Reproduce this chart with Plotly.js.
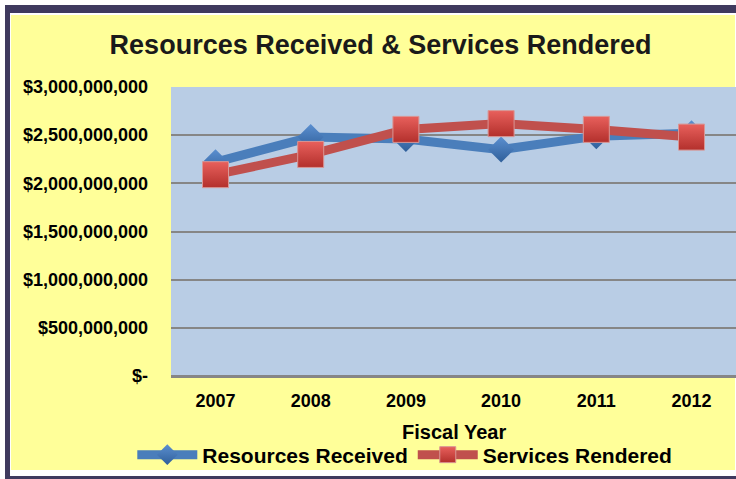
<!DOCTYPE html>
<html><head><meta charset="utf-8">
<script src="https://cdn.plot.ly/plotly-3.0.1.min.js"></script>
<style>
html,body{margin:0;padding:0;background:#fff;overflow:hidden;}
#frame{position:absolute;left:5px;top:5px;width:740px;height:480px;background:#3f3a5e;}
#inner{position:absolute;left:10px;top:13px;width:735px;height:463px;background:#fff;}
#yellow{position:absolute;left:11px;top:15px;width:724px;height:455px;background:#ffff99;}
#chart{position:absolute;left:0;top:0;width:736px;height:479px;}
</style></head>
<body>
<div id="frame"></div><div id="inner"></div><div id="yellow"></div>
<div id="chart"></div>
<script>
const years = ['2007','2008','2009','2010','2011','2012'];
const resourcesReceived = [2220000000, 2480000000, 2460000000, 2350000000, 2490000000, 2520000000];
const servicesRendered = [2090000000, 2300000000, 2560000000, 2620000000, 2560000000, 2480000000];
const yTickVals = [0, 500000000, 1000000000, 1500000000, 2000000000, 2500000000, 3000000000];
const yTickText = ['$-', '$500,000,000', '$1,000,000,000', '$1,500,000,000', '$2,000,000,000', '$2,500,000,000', '$3,000,000,000'];
const xAxisTitle = 'Fiscal Year';

const font = 'Liberation Sans, Arial, sans-serif';
const traces = [
  {x: years, y: resourcesReceived, name: 'Resources Received', type: 'scatter', mode: 'lines+markers',
   line: {color: '#4a7ebb', width: 9},
   marker: {symbol: 'diamond', size: 20, color: '#5b8fd0', gradient: {type: 'vertical', color: '#2f5f9a'}, line: {width: 0}}},
  {x: years, y: servicesRendered, name: 'Services Rendered', type: 'scatter', mode: 'lines+markers',
   line: {color: '#c0504d', width: 9},
   marker: {symbol: 'square', size: 26, color: '#e8605c', gradient: {type: 'vertical', color: '#b3302c'}, line: {width: 1, color: '#d99694'}}}
];
const layout = {
  width: 736, height: 479,
  paper_bgcolor: 'rgba(0,0,0,0)', plot_bgcolor: '#b9cde5',
  margin: {l: 171, r: 0, t: 87, b: 103},
  title: {text: '<b>Resources Received & Services Rendered</b>', font: {family: font, size: 27, color: '#1a1a1a'},
          x: 0.517, xanchor: 'center', y: 1 - 45/479, yanchor: 'middle'},
  xaxis: {type: 'category', showgrid: false, showline: false, zeroline: false,
          tickfont: {family: font, size: 18, color: '#000', weight: 'bold'}, ticklabelstandoff: 12},
  yaxis: {range: [0, 3000000000], tickvals: yTickVals, ticktext: yTickText,
          showgrid: true, gridcolor: '#868686', gridwidth: 2, zeroline: true, zerolinecolor: '#868686', zerolinewidth: 3,
          tickfont: {family: font, size: 18, color: '#000', weight: 'bold'}, ticklabelstandoff: 22, fixedrange: true},
  annotations: [{text: '<b>' + xAxisTitle + '</b>', xref: 'paper', yref: 'paper', x: 0.5, y: (376 - 432) / 289,
                 xanchor: 'center', yanchor: 'middle', showarrow: false, font: {family: font, size: 20, color: '#000'}}],
  showlegend: true,
  legend: {orientation: 'h', xref: 'container', yref: 'container', x: 0.55, xanchor: 'center', y: 1 - 455/479, yanchor: 'middle',
           bgcolor: 'rgba(0,0,0,0)', font: {family: font, size: 21, color: '#000', weight: 'bold'}, itemwidth: 60},
};
Plotly.newPlot('chart', traces, layout, {displayModeBar: false, staticPlot: true});
</script>
</body></html>
